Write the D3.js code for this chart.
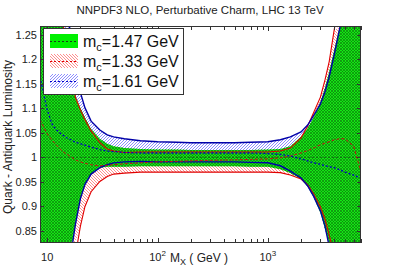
<!DOCTYPE html>
<html>
<head>
<meta charset="utf-8">
<script src="https://cdn.jsdelivr.net/npm/d3@7"></script>
<style>
	body { margin:0; background:#fff; }
	svg { display:block; font-family:"Liberation Sans", Arial, sans-serif; }
</style>
</head>
<body>
<div id="lumi_chart"></div>
<script>
// mass grid (GeV) and the ratio curves
var mass = [8.6, 10, 11, 12, 13, 14, 15, 16, 17, 18, 20, 22, 25, 30, 35, 40, 50, 70, 100, 150, 200, 300, 500, 700, 1000, 1300, 1600, 2000, 2300, 2600, 3000, 3300, 3600, 4000, 4500, 5000, 6000, 7000];

// mc = 1.47 GeV (reference, green)
var g_hi = [1.6, 1.5, 1.45, 1.4, 1.33, 1.272, 1.234, 1.197, 1.160, 1.126, 1.101, 1.081, 1.058, 1.038, 1.028, 1.023, 1.019, 1.017, 1.016, 1.016, 1.015, 1.015, 1.015, 1.015, 1.016, 1.017, 1.023, 1.042, 1.060, 1.081, 1.113, 1.142, 1.174, 1.219, 1.268, 1.32, 1.4, 1.5];
var g_lo = [0.5, 0.5, 0.55, 0.6, 0.65, 0.68, 0.72, 0.78, 0.83, 0.865, 0.915, 0.944, 0.965, 0.979, 0.981, 0.981, 0.981, 0.982, 0.982, 0.982, 0.982, 0.982, 0.982, 0.981, 0.981, 0.976, 0.968, 0.956, 0.940, 0.919, 0.887, 0.854, 0.81, 0.75, 0.7, 0.65, 0.6, 0.5];
var g_c  = [1, 1, 1, 1, 1, 1, 1, 1, 1, 1, 1, 1, 1, 1, 1, 1, 1, 1, 1, 1, 1, 1, 1, 1, 1, 1, 1, 1, 1, 1, 1, 1, 1, 1, 1, 1, 1, 1];

// mc = 1.33 GeV (red)
var r_hi = [1.6, 1.5, 1.45, 1.4, 1.32, 1.268, 1.232, 1.195, 1.158, 1.123, 1.097, 1.077, 1.054, 1.030, 1.017, 1.013, 1.010, 1.011, 1.011, 1.011, 1.011, 1.011, 1.011, 1.011, 1.011, 1.013, 1.019, 1.040, 1.064, 1.091, 1.123, 1.158, 1.195, 1.260, 1.33, 1.4, 1.45, 1.5];
var r_lo = [0.5, 0.5, 0.55, 0.6, 0.65, 0.7, 0.72, 0.74, 0.77, 0.80, 0.86, 0.900, 0.930, 0.951, 0.961, 0.966, 0.968, 0.970, 0.970, 0.970, 0.970, 0.970, 0.970, 0.970, 0.970, 0.969, 0.964, 0.956, 0.944, 0.926, 0.899, 0.874, 0.842, 0.801, 0.75, 0.7, 0.6, 0.5];
var r_c  = [1.077, 1.048, 1.036, 1.026, 1.018, 1.011, 1.007, 1.003, 0.999, 0.995, 0.991, 0.988, 0.985, 0.983, 0.984, 0.985, 0.987, 0.989, 0.991, 0.992, 0.993, 0.994, 0.995, 0.996, 0.997, 0.999, 1.003, 1.009, 1.014, 1.019, 1.026, 1.029, 1.032, 1.036, 1.038, 1.038, 1.023, 0.970];

// mc = 1.61 GeV (blue)
var b_hi = [1.6, 1.5, 1.45, 1.42, 1.38, 1.35, 1.30, 1.264, 1.23, 1.195, 1.132, 1.101, 1.074, 1.056, 1.046, 1.042, 1.038, 1.034, 1.032, 1.031, 1.030, 1.030, 1.030, 1.031, 1.032, 1.036, 1.042, 1.052, 1.066, 1.085, 1.109, 1.134, 1.164, 1.209, 1.264, 1.31, 1.4, 1.5];
var b_lo = [0.5, 0.5, 0.55, 0.6, 0.65, 0.7, 0.74, 0.78, 0.826, 0.863, 0.916, 0.945, 0.966, 0.979, 0.985, 0.989, 0.991, 0.992, 0.991, 0.991, 0.991, 0.991, 0.991, 0.990, 0.989, 0.983, 0.972, 0.958, 0.942, 0.921, 0.891, 0.860, 0.819, 0.76, 0.7, 0.65, 0.6, 0.5];
var b_c  = [1.164, 1.097, 1.069, 1.057, 1.050, 1.045, 1.040, 1.037, 1.034, 1.031, 1.028, 1.025, 1.021, 1.016, 1.013, 1.012, 1.010, 1.009, 1.009, 1.009, 1.009, 1.009, 1.009, 1.009, 1.008, 1.006, 1.003, 0.997, 0.993, 0.989, 0.986, 0.983, 0.981, 0.979, 0.975, 0.970, 0.964, 0.958];

var y_ticks = [0.85, 0.9, 0.95, 1, 1.05, 1.1, 1.15, 1.2, 1.25];
var x_major = [10, 100, 1000];
var x_minor = [20, 30, 40, 50, 60, 70, 80, 90, 200, 300, 400, 500, 600, 700, 800, 900, 2000, 3000, 4000, 5000, 6000, 7000];
var legend_labels = ["1.47", "1.33", "1.61"];

var W = 401, H = 272;
var L = 40, R = 361, T = 26, B = 243;

var svg = d3.select('#lumi_chart').append('svg').attr('width', W).attr('height', H);

var x = d3.scaleLog().domain([8.6, 7000]).range([L, R]);
var y = d3.scaleLinear().domain([0.8255, 1.268]).range([B, T]);
// clamped copy, only used for the fill shapes so they stay inside the frame
var yc = y.copy().clamp(true);

var defs = svg.append('defs');
defs.append('clipPath').attr('id', 'plotclip').append('rect')
	.attr('x', L).attr('y', T).attr('width', R - L).attr('height', B - T);

function band(lo, hi){
	return d3.area()
		.x(function(d, i){ return x(mass[i]); })
		.y0(function(d, i){ return yc(lo[i]); })
		.y1(function(d, i){ return yc(hi[i]); })(mass);
}
function curve(vals){
	return d3.line()
		.x(function(d, i){ return x(mass[i]); })
		.y(function(d, i){ return y(vals[i]); })(mass);
}

/*
 * hatching done with plain lines clipped to a shape
 * dir  1 -> "\\\" , -1 -> "///"
 */
function hatch(parent, clipId, x0, y0, x1, y1, step, dir, col, w){
	let g = parent.append('g').attr('clip-path', 'url(#' + clipId + ')');
	let hgt = y1 - y0;
	for(let s = x0 - hgt; s < x1 + hgt; s += step){
		let ln = g.append('line').style('stroke', col).style('stroke-width', w);
		if(dir > 0){
			ln.attr('x1', s).attr('y1', y0).attr('x2', s + hgt).attr('y2', y1);
		} else {
			ln.attr('x1', s + hgt).attr('y1', y0).attr('x2', s).attr('y2', y1);
		}
	}
}

defs.append('clipPath').attr('id', 'clip_red').append('path').attr('d', band(r_lo, r_hi));
defs.append('clipPath').attr('id', 'clip_blue').append('path').attr('d', band(b_lo, b_hi));
defs.append('clipPath').attr('id', 'clip_green').append('path').attr('d', band(g_lo, g_hi));

// hatches (not nested in the frame clip)
hatch(svg, 'clip_red', L, T, R, B, 3, 1, '#ff7070', 0.8);
hatch(svg, 'clip_blue', L, T, R, B, 3, -1, '#7070ff', 0.8);

svg.append('path').attr('d', band(g_lo, g_hi)).attr('fill', '#14e614');
hatch(svg, 'clip_green', L, T, R, B, 3, 1, '#0c700c', 0.6);
hatch(svg, 'clip_green', L, T, R, B, 3, -1, '#0c700c', 0.6);

var plot = svg.append('g').attr('clip-path', 'url(#plotclip)');

plot.append('path').attr('d', curve(g_c)).attr('fill', 'none').attr('stroke', '#1a4a1a')
	.attr('stroke-width', 0.7).attr('stroke-dasharray', '2,2');

//band edges
[r_lo, r_hi].forEach(function(v){
	plot.append('path').attr('d', curve(v)).attr('fill', 'none').attr('stroke', '#e00000').attr('stroke-width', 1.1);
});
[b_lo, b_hi].forEach(function(v){
	plot.append('path').attr('d', curve(v)).attr('fill', 'none').attr('stroke', '#0000a8').attr('stroke-width', 1.4);
});
plot.append('path').attr('d', curve(r_c)).attr('fill', 'none').attr('stroke', '#c81010')
	.attr('stroke-width', 1).attr('stroke-dasharray', '3,2');
plot.append('path').attr('d', curve(b_c)).attr('fill', 'none').attr('stroke', '#0000c8')
	.attr('stroke-width', 1.3).attr('stroke-dasharray', '2,2');

// axes box + ticks
var ax = svg.append('g').attr('stroke', '#333').attr('stroke-width', 1).attr('fill', 'none');
ax.append('rect').attr('x', L + 0.5).attr('y', T + 0.5).attr('width', R - L - 1).attr('height', B - T - 1);

x_major.concat(x_minor).forEach(function(m){
	var px = Math.round(x(m)) + 0.5;
	var len = x_major.indexOf(m) >= 0 ? 5 : 4;
	ax.append('line').attr('x1', px).attr('x2', px).attr('y1', B).attr('y2', B - len);
	ax.append('line').attr('x1', px).attr('x2', px).attr('y1', T).attr('y2', T + len);
});
y_ticks.forEach(function(v){
	var py = Math.round(y(v)) + 0.5;
	ax.append('line').attr('x1', L).attr('x2', L + 4).attr('y1', py).attr('y2', py);
	ax.append('line').attr('x1', R).attr('x2', R - 4).attr('y1', py).attr('y2', py);
});

// tick labels
svg.append('g').selectAll('text').data(y_ticks).enter().append('text')
	.attr('x', L - 3).attr('y', function(d){ return y(d) + 4; })
	.attr('text-anchor', 'end').attr('font-size', 11).attr('fill', '#222')
	.text(function(d){ return d3.format('')(d); });

x_major.forEach(function(m, i){
	var t = svg.append('text').attr('x', x(m)).attr('y', 261).attr('font-size', 11).attr('fill', '#222')
		.attr('text-anchor', 'middle');
	t.append('tspan').text('10');
	if(i > 0){
		t.append('tspan').attr('dy', -5).attr('font-size', 8).text(String(i + 1));
	}
});

// axis titles
var xl = svg.append('text').attr('x', 170).attr('y', 262).attr('font-size', 12).attr('fill', '#222');
xl.append('tspan').text('M');
xl.append('tspan').attr('dy', 3).attr('font-size', 9).text('X');
xl.append('tspan').attr('dy', -3).text(' ( GeV )');

svg.append('text').attr('transform', 'translate(12,137) rotate(-90)').attr('text-anchor', 'middle')
	.attr('font-size', 12).attr('fill', '#222').text('Quark - Antiquark Luminosity');

svg.append('text').attr('x', 200).attr('y', 14).attr('text-anchor', 'middle').attr('font-size', 11.5)
	.attr('fill', '#222').text('NNPDF3 NLO, Perturbative Charm, LHC 13 TeV');

// legend
var lg = svg.append('g');
lg.append('rect').attr('x', 43.5).attr('y', 28.5).attr('width', 140).attr('height', 66)
	.attr('fill', '#fff').attr('stroke', '#333');
var sw_line = ['#1a3a1a', '#e00000', '#0000c8'];
legend_labels.forEach(function(lab, i){
	var cy = 41 + i * 20;
	defs.append('clipPath').attr('id', 'clip_sw' + i).append('rect')
		.attr('x', 50).attr('y', cy - 7).attr('width', 28).attr('height', 14);
	if(i == 0){
		lg.append('rect').attr('x', 50).attr('y', cy - 7).attr('width', 28).attr('height', 14).attr('fill', '#00f000');
	} else if(i == 1){
		hatch(lg, 'clip_sw1', 50, cy - 7, 78, cy + 7, 3, 1, '#ff7070', 0.8);
	} else {
		hatch(lg, 'clip_sw2', 50, cy - 7, 78, cy + 7, 3, -1, '#7070ff', 0.8);
	}
	lg.append('line').attr('x1', 50).attr('x2', 78).attr('y1', cy + 0.5).attr('y2', cy + 0.5)
		.attr('stroke', sw_line[i]).attr('stroke-width', 1).attr('stroke-dasharray', '2,2');
	var t = lg.append('text').attr('x', 83).attr('y', cy + 6).attr('font-size', 16).attr('fill', '#111');
	t.append('tspan').text('m');
	t.append('tspan').attr('dy', 4).attr('font-size', 11).text('c');
	t.append('tspan').attr('dy', -4).text('=' + lab + ' GeV');
});
</script>
</body>
</html>
